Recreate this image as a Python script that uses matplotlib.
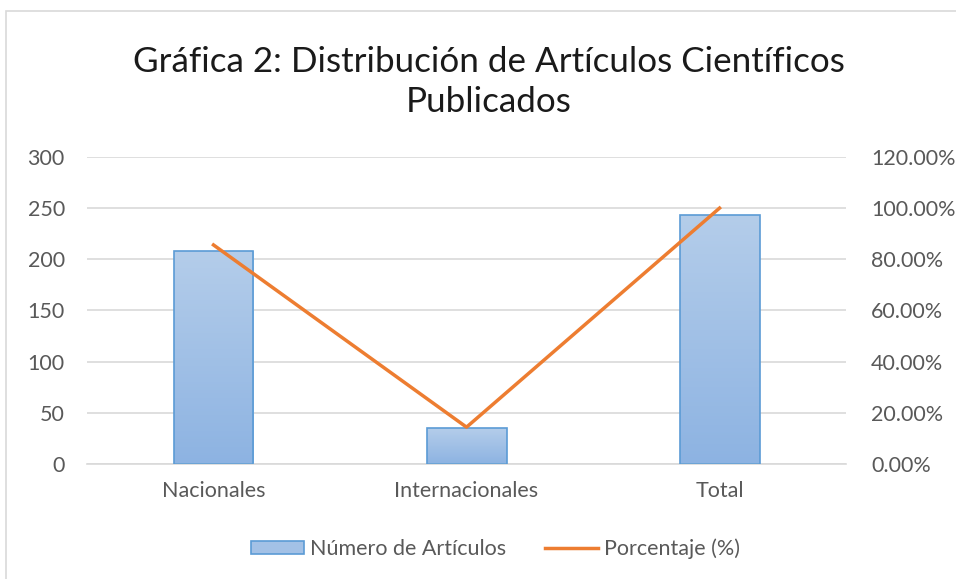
import numpy as np
import matplotlib.pyplot as plt
from matplotlib.patches import Rectangle, Patch
from matplotlib.lines import Line2D
from matplotlib.colors import LinearSegmentedColormap

categories = ['Nacionales', 'Internacionales', 'Total']
articulos = [208, 35, 243]
porcentaje = [85.6, 14.4, 100.0]
left_ticks = [0, 50, 100, 150, 200, 250, 300]
right_ticks = [0, 20, 40, 60, 80, 100, 120]

plt.rcParams['font.family'] = ['Lato', 'DejaVu Sans']
gray = '#595959'

fig = plt.figure(figsize=(9.56, 5.79), dpi=100)
# chart border
fig.patches.append(Rectangle((6 / 956, -0.05), 1.0, (579 - 11) / 579 + 0.05,
                             transform=fig.transFigure, fill=False,
                             edgecolor='#d9d9d9', linewidth=1.2))

ax = fig.add_axes([0.091, 0.1986, 0.794, 0.5304])
x = np.arange(len(categories))
bw = 0.316

bars = ax.bar(x, articulos, width=bw, color='none', edgecolor='#5b9bd5',
              linewidth=1.2, zorder=3)
cmap = LinearSegmentedColormap.from_list('g', ['#8db3e2', '#b4cdea'])
grad = np.linspace(0, 1, 256).reshape(-1, 1)
for b in bars:
    x0, y0 = b.get_x(), b.get_y()
    w, h = b.get_width(), b.get_height()
    im = ax.imshow(grad, extent=[x0, x0 + w, y0, y0 + h], origin='lower',
                   cmap=cmap, aspect='auto', zorder=2)
    im.set_clip_path(b)

ax.set_xlim(-0.5, 2.5)
ax.set_ylim(0, 300)
ax.set_yticks(left_ticks)
ax.set_xticks(x)
ax.set_xticklabels(categories)
ax.grid(axis='y', color='#d9d9d9', linewidth=1.2, zorder=0)
ax.set_axisbelow(True)
for s in ['top', 'left', 'right']:
    ax.spines[s].set_visible(False)
ax.spines['bottom'].set_color('#d9d9d9')
ax.spines['bottom'].set_linewidth(1.2)
ax.tick_params(length=0, labelsize=15.5, colors=gray)
ax.tick_params(axis='y', pad=16)
ax.tick_params(axis='x', pad=12)

ax2 = ax.twinx()
ax2.plot(x, porcentaje, color='#ed7d31', linewidth=2.5, zorder=4)
ax2.set_ylim(0, 120)
ax2.set_yticks(right_ticks)
ax2.set_yticklabels([f'{v:.2f}%' for v in right_ticks])
for s in ax2.spines.values():
    s.set_visible(False)
ax2.tick_params(length=0, labelsize=15.5, colors=gray, pad=18)
ax.set_zorder(ax2.get_zorder() - 1)
ax.patch.set_visible(False)

fig.text(0.511, 0.858, 'Gráfica 2: Distribución de Artículos Científicos\nPublicados',
         ha='center', va='center', fontsize=25.2, color='#1a1a1a', linespacing=1.3)

handles = [Patch(facecolor='#a3c1e6', edgecolor='#5b9bd5', linewidth=1.2),
           Line2D([0], [0], color='#ed7d31', linewidth=2.5)]
fig.legend(handles, ['Número de Artículos', 'Porcentaje (%)'], loc='center',
           bbox_to_anchor=(0.518, 0.052), ncol=2, frameon=False, fontsize=15.5,
           labelcolor=gray, handlelength=2.5, handleheight=0.6, handletextpad=0.25,
           columnspacing=1.8)

fig.savefig('out.png', dpi=100)
